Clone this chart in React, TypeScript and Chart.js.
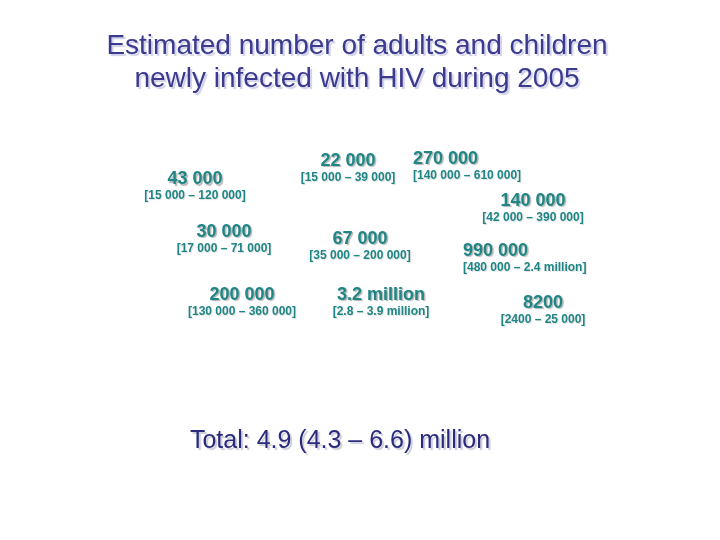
import React, { useEffect, useRef } from "react";
import { Chart, registerables } from "chart.js";

Chart.register(...registerables);

const TITLE_LINES = [
  "Estimated number of adults and children",
  "newly infected with HIV during 2005",
];

const REGIONS = [
  "North America",
  "Caribbean",
  "Latin America",
  "Western and Central Europe",
  "North Africa and Middle East",
  "Sub-Saharan Africa",
  "Eastern Europe and Central Asia",
  "East Asia",
  "South and South-East Asia",
  "Oceania",
];

const ESTIMATES = [
  "43 000",
  "30 000",
  "200 000",
  "22 000",
  "67 000",
  "3.2 million",
  "270 000",
  "140 000",
  "990 000",
  "8200",
];

const RANGES = [
  "[15 000 – 120 000]",
  "[17 000 – 71 000]",
  "[130 000 – 360 000]",
  "[15 000 – 39 000]",
  "[35 000 – 200 000]",
  "[2.8 – 3.9 million]",
  "[140 000 – 610 000]",
  "[42 000 – 390 000]",
  "[480 000 – 2.4 million]",
  "[2400 – 25 000]",
];

// map-like anchor coordinates of each region label (longitude / latitude style)
const LON = [-82.5, -68, -59, -6, 0, 10.5, 26.5, 86.5, 51.5, 91.5];
const LAT = [30.2, 12.7, -8.3, 36.4, 10.4, -8.3, 37.0, 23.0, 6.4, -11.0];
const ANCHOR = ["center", "center", "center", "center", "center", "center", "left", "center", "left", "center"];

const TOTAL_TEXT = "Total: 4.9 (4.3 – 6.6) million";
const TOTAL_LON = -10;
const TOTAL_LAT = -57;

export default function App() {
  const ref = useRef<HTMLCanvasElement | null>(null);

  useEffect(() => {
    document.body.style.margin = "0";
    document.body.style.background = "#ffffff";
    const canvas = ref.current;
    if (!canvas) return;

    const labelPlugin = {
      id: "mapLabels",
      afterDatasetsDraw(chart: any) {
        const ctx = chart.ctx;
        const xs = chart.scales.x;
        const ys = chart.scales.y;
        ctx.save();
        ctx.textBaseline = "middle";

        // title
        ctx.font = "28px 'Liberation Sans', Arial, sans-serif";
        ctx.textAlign = "center";
        ctx.fillStyle = "#3a3a8e";
        ctx.shadowColor = "rgba(160,160,210,0.5)";
        ctx.shadowOffsetX = 2;
        ctx.shadowOffsetY = 2;
        ctx.shadowBlur = 1;
        ctx.fillText(TITLE_LINES[0], 357, 46);
        ctx.fillText(TITLE_LINES[1], 357, 79);

        // region labels
        for (let i = 0; i < REGIONS.length; i++) {
          const px = xs.getPixelForValue(LON[i]);
          const py = ys.getPixelForValue(LAT[i]);
          ctx.textAlign = ANCHOR[i] as CanvasTextAlign;
          ctx.fillStyle = "#1f8585";
          ctx.shadowColor = "rgba(120,120,120,0.55)";
          ctx.shadowOffsetX = 1.5;
          ctx.shadowOffsetY = 1.5;
          ctx.shadowBlur = 1;
          ctx.font = "bold 18px 'Liberation Sans', Arial, sans-serif";
          ctx.fillText(ESTIMATES[i], px, py);
          ctx.shadowColor = "rgba(160,160,160,0.35)";
          ctx.shadowOffsetX = 1;
          ctx.shadowOffsetY = 1;
          ctx.font = "bold 12px 'Liberation Sans', Arial, sans-serif";
          ctx.fillText(RANGES[i], px, py + 16.5);
        }

        // total
        ctx.textAlign = "center";
        ctx.fillStyle = "#2b2b7d";
        ctx.shadowColor = "rgba(170,170,190,0.6)";
        ctx.shadowOffsetX = 2;
        ctx.shadowOffsetY = 2;
        ctx.shadowBlur = 1;
        ctx.font = "25px 'Liberation Sans', Arial, sans-serif";
        ctx.fillText(TOTAL_TEXT, xs.getPixelForValue(TOTAL_LON), ys.getPixelForValue(TOTAL_LAT));
        ctx.restore();
      },
    };

    const chart = new Chart(canvas, {
      type: "scatter",
      data: {
        labels: REGIONS,
        datasets: [
          {
            label: "New HIV infections 2005",
            data: LON.map((lon, i) => ({ x: lon, y: LAT[i] })),
            pointRadius: 0,
            pointHoverRadius: 0,
            backgroundColor: "rgba(0,0,0,0)",
            borderColor: "rgba(0,0,0,0)",
          },
        ],
      },
      options: {
        animation: false,
        responsive: false,
        maintainAspectRatio: false,
        layout: { padding: 0 },
        plugins: {
          legend: { display: false },
          tooltip: { enabled: false },
          title: { display: false },
        },
        scales: {
          x: { type: "linear", min: -180, max: 180, display: false },
          y: { type: "linear", min: -90, max: 90, display: false },
        },
      },
      plugins: [labelPlugin],
    });

    return () => chart.destroy();
  }, []);

  return (
    <div style={{ width: 720, height: 540, background: "#ffffff" }}>
      <canvas ref={ref} width={720} height={540} style={{ display: "block" }} />
    </div>
  );
}
